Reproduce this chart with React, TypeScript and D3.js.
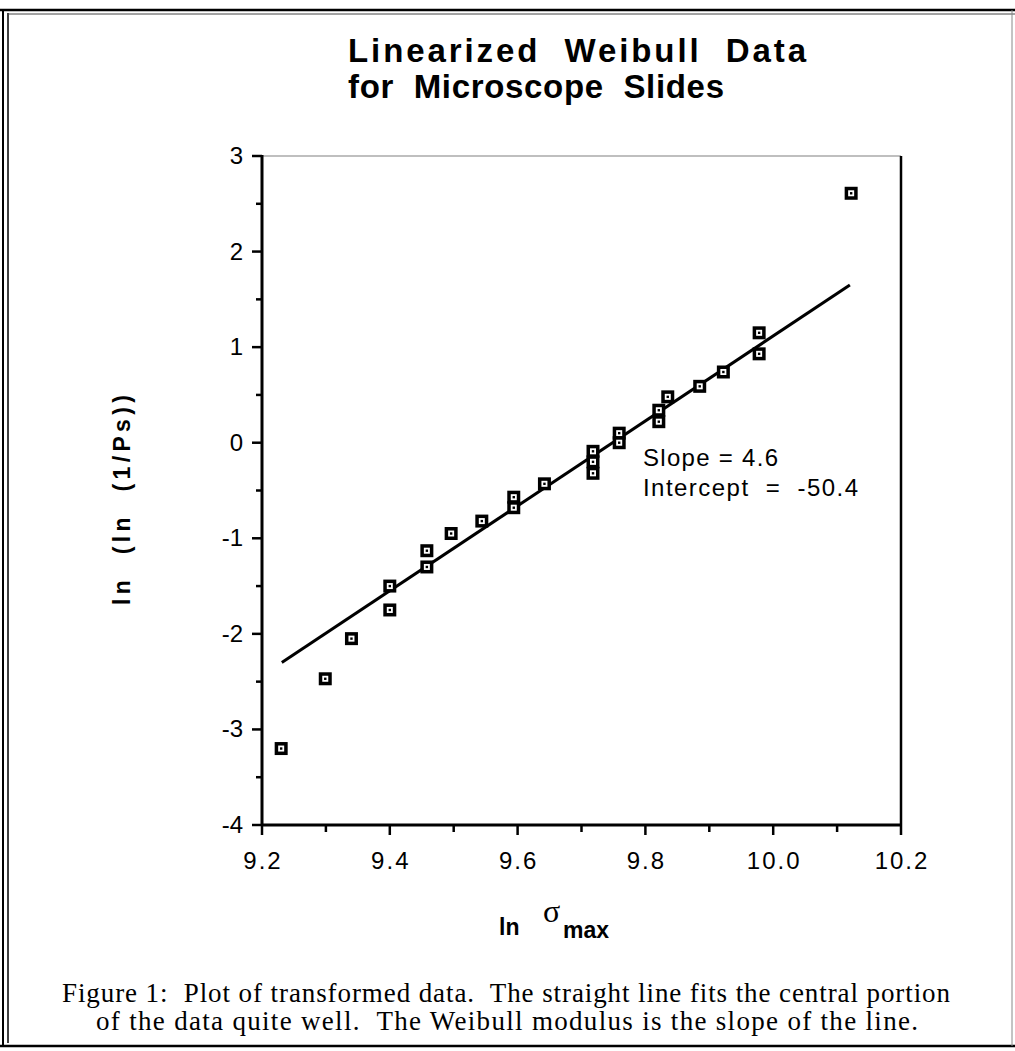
import React from "react";
import * as d3 from "d3";

// ---- data ----
const pointsX = [9.23, 9.299, 9.34, 9.40, 9.40, 9.458, 9.458, 9.496, 9.544, 9.594, 9.594, 9.642, 9.718, 9.718, 9.718, 9.759, 9.759, 9.821, 9.821, 9.835, 9.885, 9.922, 9.978, 9.978, 10.122];
const pointsY = [-3.2, -2.47, -2.05, -1.75, -1.50, -1.30, -1.13, -0.95, -0.82, -0.68, -0.57, -0.43, -0.09, -0.20, -0.32, 0.10, 0.00, 0.34, 0.22, 0.48, 0.59, 0.74, 1.15, 0.93, 2.61];
const fitX = [9.231, 10.12];
const fitY = [-2.30, 1.65];
const xTicks = [9.2, 9.4, 9.6, 9.8, 10.0, 10.2];
const xMinorTicks = [9.3, 9.5, 9.7, 9.9, 10.1];
const yTicks = [-4, -3, -2, -1, 0, 1, 2, 3];
const yMinorTicks = [-3.5, -2.5, -1.5, -0.5, 0.5, 1.5, 2.5];
const titleLines = ["Linearized  Weibull  Data", "for  Microscope  Slides"];
const captionLines = [
  "Figure 1:  Plot of transformed data.  The straight line fits the central portion",
  "of the data quite well.  The Weibull modulus is the slope of the line.",
];
const annotation = ["Slope = 4.6", "Intercept  =  -50.4"];

const W = 1015;
const H = 1051;
const left = 262, right = 901, top = 156, bottom = 825;

export default function App() {
  const x = d3.scaleLinear().domain([9.2, 10.2]).range([left, right]);
  const y = d3.scaleLinear().domain([-4, 3]).range([bottom, top]);
  const line = d3.line<number>().x((_, i) => x(fitX[i])).y((_, i) => y(fitY[i]));
  const sans = "Liberation Sans, Arial, Helvetica, sans-serif";
  const serif = "Liberation Serif, Times New Roman, serif";
  return (
    <svg width={W} height={H} style={{ position: "absolute", left: 0, top: 0, background: "#fff" }}>
      <rect x={0} y={0} width={W} height={H} fill="#fff" />
      {/* outer frame */}
      <line x1={3} y1={9} x2={3} y2={1047} stroke="#000" strokeWidth={2} />
      <line x1={8} y1={13} x2={8} y2={1043} stroke="#000" strokeWidth={1.5} />
      <line x1={0} y1={10} x2={W} y2={10} stroke="#000" strokeWidth={2.5} />
      <line x1={8} y1={14} x2={W} y2={14} stroke="#444" strokeWidth={1} />
      <line x1={0} y1={1046} x2={W} y2={1046} stroke="#000" strokeWidth={2.5} />
      <line x1={1012} y1={10} x2={1012} y2={1046} stroke="#888" strokeWidth={1} />

      {/* title */}
      {titleLines.map((t, i) => (
        <text key={i} x={348} y={62 + i * 36} fontFamily={sans} fontWeight="bold" fontSize={33}
          textLength={i === 0 ? 458 : 376} lengthAdjust="spacing" style={{ whiteSpace: "pre" }}>{t}</text>
      ))}

      {/* plot frame */}
      <line x1={left} y1={top} x2={right} y2={top} stroke="#aaa" strokeWidth={1.5} />
      <line x1={right} y1={top} x2={right} y2={bottom} stroke="#000" strokeWidth={2.5} />
      <line x1={left} y1={top - 1} x2={left} y2={bottom + 1} stroke="#000" strokeWidth={3} />
      <line x1={left - 1} y1={bottom} x2={right} y2={bottom} stroke="#000" strokeWidth={3} />

      {/* y ticks */}
      {yTicks.map((t) => (
        <g key={"y" + t}>
          <line x1={left - 10} x2={left} y1={y(t)} y2={y(t)} stroke="#000" strokeWidth={2.5} />
          <text x={243} y={y(t) + 8} textAnchor="end" fontFamily={sans} fontSize={24}>{t === 0 ? "0" : t < 0 ? "-" + Math.abs(t) : String(t)}</text>
        </g>
      ))}
      {yMinorTicks.map((t) => (
        <line key={"ym" + t} x1={left - 6} x2={left} y1={y(t)} y2={y(t)} stroke="#000" strokeWidth={2.5} />
      ))}
      {/* x ticks */}
      {xTicks.map((t) => (
        <g key={"x" + t}>
          <line x1={x(t)} x2={x(t)} y1={bottom} y2={bottom + 10} stroke="#000" strokeWidth={2.5} />
          <text x={x(t) + 1} y={869} textAnchor="middle" fontFamily={sans} fontSize={24} letterSpacing={2}>{t.toFixed(1)}</text>
        </g>
      ))}
      {xMinorTicks.map((t) => (
        <line key={"xm" + t} x1={x(t)} x2={x(t)} y1={bottom} y2={bottom + 7} stroke="#000" strokeWidth={2.5} />
      ))}

      {/* fit line */}
      <path d={line(fitX) || ""} fill="none" stroke="#000" strokeWidth={3} />

      {/* points */}
      {pointsX.map((px, i) => (
        <g key={"p" + i} transform={`translate(${x(px)},${y(pointsY[i])})`}>
          <rect x={-6.5} y={-6.5} width={13} height={13} fill="#000" />
          <rect x={-3} y={-3} width={6} height={6} fill="#fff" />
          <rect x={-1.2} y={-1.2} width={2.4} height={2.4} fill="#000" />
        </g>
      ))}

      {/* annotation */}
      {annotation.map((t, i) => (
        <text key={"a" + i} x={643} y={466 + i * 30} fontFamily={sans} fontSize={24}
          textLength={i === 0 ? 135 : 215} lengthAdjust="spacing" style={{ whiteSpace: "pre" }}>{t}</text>
      ))}

      {/* y axis title */}
      <text transform="translate(130,500) rotate(-90)" textAnchor="middle" fontFamily={sans} fontWeight="bold" fontSize={23}
        textLength={210} lengthAdjust="spacing" style={{ whiteSpace: "pre" }}>{"ln  (ln  (1/Ps))"}</text>

      {/* x axis title */}
      <text x={499} y={935} fontFamily={sans} fontWeight="bold" fontSize={23}>ln</text>
      <text x={543} y={922} fontFamily={serif} fontSize={32}>σ</text>
      <text x={563} y={938} fontFamily={sans} fontWeight="bold" fontSize={23}>max</text>

      {/* caption */}
      {captionLines.map((t, i) => (
        <text key={"c" + i} x={i === 0 ? 62 : 96} y={1002 + i * 28} fontFamily={serif} fontSize={27}
          textLength={i === 0 ? 888 : 822} lengthAdjust="spacing" style={{ whiteSpace: "pre" }}>{t}</text>
      ))}
    </svg>
  );
}
